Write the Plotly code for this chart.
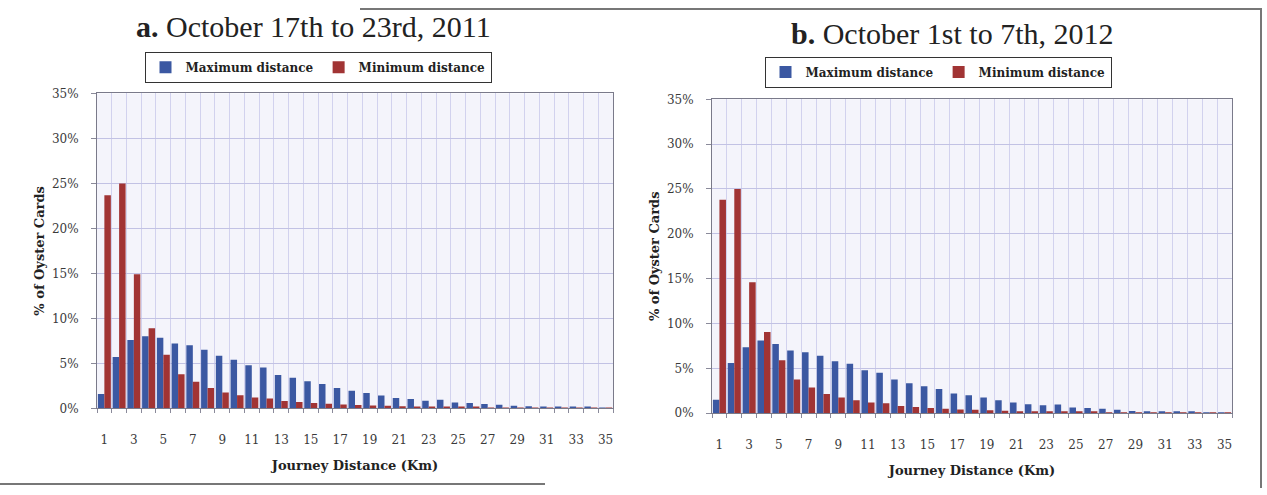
import plotly.graph_objects as go

W, H = 1267, 495

distance_km = list(range(1, 36))
x_tick_vals = list(range(1, 36, 2))
y_tick_vals = [0, 5, 10, 15, 20, 25, 30, 35]
y_tick_text = [f"{v}%" for v in y_tick_vals]

# Panel a: October 17th to 23rd, 2011 (% of Oyster cards)
max_2011 = [1.6, 5.7, 7.6, 8.0, 7.85, 7.2, 7.0, 6.5, 5.85, 5.4, 4.8, 4.55, 3.7, 3.4, 3.0, 2.7, 2.25,
            1.95, 1.7, 1.42, 1.16, 1.03, 0.84, 0.94, 0.65, 0.58, 0.48, 0.39, 0.29, 0.23, 0.18, 0.14,
            0.12, 0.1, 0.08]
min_2011 = [23.7, 25.0, 14.9, 8.9, 5.95, 3.8, 2.95, 2.25, 1.75, 1.45, 1.2, 1.1, 0.82, 0.7, 0.6, 0.5,
            0.42, 0.38, 0.32, 0.28, 0.22, 0.2, 0.17, 0.15, 0.12, 0.1, 0.09, 0.08, 0.07, 0.06, 0.05,
            0.04, 0.04, 0.03, 0.03]

# Panel b: October 1st to 7th, 2012
max_2012 = [1.5, 5.6, 7.35, 8.1, 7.7, 7.0, 6.8, 6.4, 5.8, 5.5, 4.8, 4.5, 3.75, 3.35, 3.0, 2.7, 2.2,
            2.0, 1.75, 1.45, 1.2, 1.0, 0.88, 0.97, 0.63, 0.57, 0.5, 0.38, 0.25, 0.2, 0.15, 0.12,
            0.1, 0.08, 0.07]
min_2012 = [23.8, 25.0, 14.6, 9.05, 5.9, 3.75, 2.85, 2.15, 1.75, 1.45, 1.2, 1.1, 0.8, 0.7, 0.58, 0.48,
            0.4, 0.38, 0.32, 0.27, 0.22, 0.2, 0.17, 0.15, 0.12, 0.1, 0.09, 0.08, 0.07, 0.06, 0.05,
            0.04, 0.04, 0.03, 0.03]

series_names = ["Maximum distance", "Minimum distance"]
titles = ["<b>a.</b> October 17th to 23rd, 2011", "<b>b.</b> October 1st to 7th, 2012"]
x_title = "Journey Distance (Km)"
y_title = "% of Oyster Cards"

BLUE = "#3b58a2"
RED = "#a13434"
SERIF = "DejaVu Serif"

fig = go.Figure()

panels = [
    dict(maxv=max_2011, minv=min_2011, x="x", y="y", legend="legend"),
    dict(maxv=max_2012, minv=min_2012, x="x2", y="y2", legend="legend2"),
]
for p in panels:
    fig.add_trace(go.Bar(x=distance_km, y=p["maxv"], name=series_names[0], marker_color=BLUE,
                         marker_line_width=0, xaxis=p["x"], yaxis=p["y"], legend=p["legend"]))
    fig.add_trace(go.Bar(x=distance_km, y=p["minv"], name=series_names[1], marker_color=RED,
                         marker_line_width=0, xaxis=p["x"], yaxis=p["y"], legend=p["legend"]))

def px_x(v):
    return v / W

def px_y(v):
    return 1 - v / H

# plot-area pixel boxes (left, right, top, bottom)
boxes = [(97, 613, 89, 413), (712, 1232, 95, 418)]

boundaries = [k + 0.5 for k in range(0, 36)]

def xaxis(box, anchor):
    return dict(
        domain=[px_x(box[0]), px_x(box[1])], anchor=anchor,
        range=[0.5, 35.5], tickmode="array", tickvals=x_tick_vals,
        showgrid=False, zeroline=False, ticks="", ticklen=0, ticklabelstandoff=20,
        tickfont=dict(family=SERIF, size=12, color="#3a3a3a"),
        showline=True, linecolor="#7a7a8a", linewidth=1, mirror=True,
        minor=dict(tickmode="array", tickvals=boundaries, showgrid=True,
                   gridcolor="#d2d2ee", gridwidth=1, ticks="outside", ticklen=4,
                   tickcolor="#8a8a9a"),
        title=dict(text="<b>" + x_title + "</b>", standoff=15,
                   font=dict(family=SERIF, size=13, color="#222")),
    )

def yaxis(box, anchor):
    return dict(
        domain=[px_y(box[3]), px_y(box[2])], anchor=anchor,
        range=[0, 35], tickmode="array", tickvals=y_tick_vals, ticktext=y_tick_text,
        showgrid=True, gridcolor="#c2c2e4", gridwidth=1, zeroline=False,
        ticks="outside", ticklen=5, tickcolor="#8a8a9a", ticklabelstandoff=10,
        tickfont=dict(family=SERIF, size=12, color="#3a3a3a"),
        showline=True, linecolor="#7a7a8a", linewidth=1, mirror=True,
        title=dict(text="<b>" + y_title + "</b>", standoff=4,
                   font=dict(family=SERIF, size=13, color="#222")),
    )

legend_style = dict(orientation="h", xanchor="center", yanchor="middle",
                    bgcolor="white", bordercolor="#333", borderwidth=1,
                    font=dict(family=SERIF, size=12, color="#222", weight="bold"),
                    itemclick=False, itemdoubleclick=False, traceorder="normal")

fig.update_layout(
    width=W, height=H, margin=dict(l=0, r=0, t=0, b=0),
    paper_bgcolor="white", plot_bgcolor="#f4f4fb",
    barmode="group", bargap=0.12, bargroupgap=0,
    xaxis=xaxis(boxes[0], "y"), yaxis=yaxis(boxes[0], "x"),
    xaxis2=xaxis(boxes[1], "y2"), yaxis2=yaxis(boxes[1], "x2"),
    legend=dict(x=px_x(318), y=px_y(62), **legend_style),
    legend2=dict(x=px_x(938), y=px_y(67), **legend_style),
    showlegend=True,
    font=dict(family=SERIF),
)

fig.add_annotation(text=titles[0], x=px_x(313), y=px_y(20), xref="paper", yref="paper",
                   showarrow=False, xanchor="center", yanchor="middle",
                   font=dict(family="Liberation Serif", size=30, color="#222"))
fig.add_annotation(text=titles[1], x=px_x(952), y=px_y(27), xref="paper", yref="paper",
                   showarrow=False, xanchor="center", yanchor="middle",
                   font=dict(family="Liberation Serif", size=30, color="#222"))

# scanned page frame lines
frame = dict(xref="paper", yref="paper", line=dict(color="#777", width=2))
fig.add_shape(type="line", x0=px_x(360), x1=px_x(1262), y0=px_y(2), y1=px_y(2), **frame)
fig.add_shape(type="line", x0=px_x(1261), x1=px_x(1261), y0=px_y(2), y1=px_y(495), **frame)
fig.add_shape(type="line", x0=0, x1=px_x(545), y0=px_y(491), y1=px_y(491), **frame)

fig.write_html("out.html")
